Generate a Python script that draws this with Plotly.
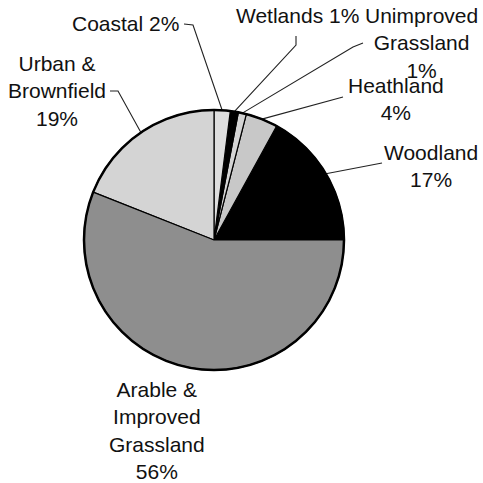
import math
import plotly.graph_objects as go

# ---- data ----
labels = ["Woodland", "Heathland", "Unimproved Grassland", "Wetlands",
          "Coastal", "Urban & Brownfield", "Arable & Improved Grassland"]
values = [17, 4, 1, 1, 2, 19, 56]
label_texts = ["Woodland<br>17%", "Heathland<br>4%", "Unimproved<br>Grassland<br>1%",
               "Wetlands 1%", "Coastal 2%", "Urban &<br>Brownfield<br>19%",
               "Arable &<br>Improved<br>Grassland<br>56%"]
colors = ["#000000", "#c8c8c8", "#d4d4d4", "#000000", "#dedede", "#d4d4d4", "#8e8e8e"]

# ---- layout constants (page pixels) ----
W = H = 483
CX, CY, R = 214, 240, 130
FONT = dict(family="Liberation Sans, Arial, sans-serif", size=21, color="#111111")

def px(x, y):
    return x / W, 1 - y / H

# label placement: (x, y, xanchor), leader points on the text side
label_pos = {
    "Woodland": (431, 165.5, "center", [(382, 163)]),
    "Heathland": (396, 98.5, "center", [(343, 97)]),
    "Unimproved Grassland": (421, 43, "center", [(363, 43), (353, 47)]),
    "Wetlands": (234, 15.5, "left", [(296, 36), (296, 45)]),
    "Coastal": (181, 24, "right", [(184, 24), (193, 25)]),
    "Urban & Brownfield": (57, 91.5, "center", [(110, 91), (118, 91)]),
    "Arable & Improved Grassland": (157, 430, "center", []),
}

x0, y1 = px(CX - R, CY - R)
x1, y0 = px(CX + R, CY + R)
dom_x = [x0, x1]
dom_y = [y0, y1]

total = sum(values)
# first slice (Woodland) runs counterclockwise from 3 o'clock
rotation = 90 - values[0] / total * 360.0

fig = go.Figure(go.Pie(
    labels=labels, values=values, sort=False, direction="counterclockwise",
    rotation=rotation, textinfo="none", hoverinfo="label+percent",
    marker=dict(colors=colors, line=dict(color="#000000", width=1.2)),
    domain=dict(x=dom_x, y=dom_y), showlegend=False,
))

cum = 0.0
annotations = []
shapes = []
for lab, val, txt in zip(labels, values, label_texts):
    mid = (cum + val / 2) / total * 360.0
    cum += val
    tx, ty, xa, pts = label_pos[lab]
    ax_, ay_ = px(tx, ty)
    annotations.append(dict(x=ax_, y=ay_, xref="paper", yref="paper",
                            text=txt, showarrow=False, xanchor=xa, yanchor="middle",
                            align="center", font=FONT))
    if pts:
        ex = CX + R * math.cos(math.radians(mid))
        ey = CY - R * math.sin(math.radians(mid))
        allp = pts + [(ex, ey)]
        path = "M " + " L ".join(f"{px(x, y)[0]:.5f},{px(x, y)[1]:.5f}" for x, y in allp)
        shapes.append(dict(type="path", path=path, xref="paper", yref="paper",
                           line=dict(color="#222222", width=1.1)))

# thick outer rim
shapes.append(dict(type="circle", xref="paper", yref="paper",
                   x0=dom_x[0], x1=dom_x[1], y0=dom_y[0], y1=dom_y[1],
                   line=dict(color="#000000", width=2.5), layer="above"))

fig.update_layout(width=W, height=H, margin=dict(l=0, r=0, t=0, b=0),
                  paper_bgcolor="white", plot_bgcolor="white",
                  annotations=annotations, shapes=shapes)

fig.write_html("out.html", config={"displayModeBar": False},
               post_script="document.body.style.margin='0px';"
                           "document.body.style.overflow='hidden';")
